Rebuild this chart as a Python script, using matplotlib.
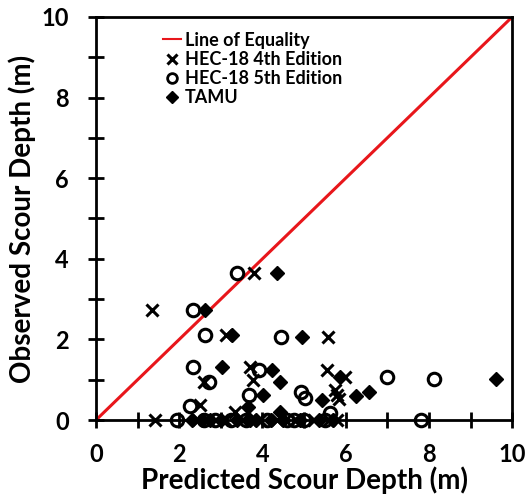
import matplotlib
matplotlib.use("Agg")
import matplotlib.pyplot as plt
from matplotlib.ticker import MultipleLocator
from matplotlib.lines import Line2D

plt.rcParams['font.family'] = ['Lato', 'DejaVu Sans']
plt.rcParams['font.weight'] = 'bold'

# HEC-18 4th Edition (predicted, observed)
hec4_x = [3.8, 1.35, 3.13, 5.58, 3.69, 5.55, 3.78, 5.99, 2.6, 5.75, 5.8, 5.85, 2.5, 3.34,
          1.42, 2.45, 2.7, 3.1, 3.5, 3.95, 4.35, 4.8, 5.25, 5.6, 5.8]
hec4_y = [3.65, 2.73, 2.12, 2.07, 1.32, 1.24, 1.0, 1.07, 0.95, 0.74, 0.62, 0.52, 0.37, 0.21,
          0, 0, 0, 0, 0, 0, 0, 0, 0, 0, 0]

# HEC-18 5th Edition
hec5_x = [3.38, 2.34, 2.62, 4.44, 2.34, 3.92, 2.72, 7.0, 8.11, 3.68, 4.92, 5.02, 2.26, 5.63,
          1.95, 2.6, 2.85, 3.25, 3.6, 4.1, 4.6, 4.75, 5.0, 5.5, 7.8]
hec5_y = [3.65, 2.73, 2.12, 2.07, 1.32, 1.24, 0.95, 1.07, 1.03, 0.62, 0.7, 0.56, 0.35, 0.18,
          0, 0, 0, 0, 0, 0, 0, 0, 0, 0, 0]

# TAMU
tamu_x = [4.35, 2.62, 3.28, 4.94, 3.02, 4.22, 5.87, 9.6, 4.42, 4.02, 5.43, 6.25, 6.55, 3.66, 4.42,
          2.3, 2.55, 2.75, 3.0, 3.4, 3.7, 3.85, 4.2, 4.5, 4.9, 5.35, 5.7]
tamu_y = [3.65, 2.73, 2.12, 2.07, 1.32, 1.24, 1.07, 1.03, 0.95, 0.62, 0.5, 0.6, 0.7, 0.33, 0.2,
          0, 0, 0, 0, 0, 0, 0, 0, 0, 0, 0, 0]

fig = plt.figure(figsize=(5.27, 4.96), dpi=100)
ax = fig.add_axes([0.182, 0.153, 0.79, 0.813])

ax.plot([0, 10], [0, 10], color='#e8161b', lw=2.2, zorder=2)
ax.plot(hec4_x, hec4_y, 'x', color='black', ms=8, mew=2.2, zorder=3, clip_on=False)
ax.plot(hec5_x, hec5_y, 'o', mfc='none', mec='black', ms=9, mew=2.2, zorder=3, clip_on=False)
ax.plot(tamu_x, tamu_y, 'D', color='black', ms=7.5, zorder=3, clip_on=False)

ax.set_xlim(0, 10)
ax.set_ylim(0, 10)
ax.xaxis.set_major_locator(MultipleLocator(2))
ax.yaxis.set_major_locator(MultipleLocator(2))
ax.xaxis.set_minor_locator(MultipleLocator(1))
ax.yaxis.set_minor_locator(MultipleLocator(1))
ax.tick_params(which='both', direction='inout', length=11, width=2, labelsize=17)
ax.tick_params(axis='x', pad=11)
ax.tick_params(axis='y', pad=14)
for s in ax.spines.values():
    s.set_linewidth(2)

ax.set_xlabel('Predicted Scour Depth (m)', fontsize=20, fontweight='bold', labelpad=0)
ax.set_ylabel('Observed Scour Depth (m)', fontsize=20, fontweight='bold', labelpad=4)

handles = [
    Line2D([], [], color='#e8161b', lw=1.5),
    Line2D([], [], ls='none', marker='x', color='black', ms=7, mew=2.2),
    Line2D([], [], ls='none', marker='o', mfc='none', mec='black', ms=7, mew=2),
    Line2D([], [], ls='none', marker='D', color='black', ms=6.5),
]
labels = ['Line of Equality', 'HEC-18 4th Edition', 'HEC-18 5th Edition', 'TAMU']
ax.legend(handles, labels, loc='upper left', bbox_to_anchor=(0.135, 0.99), frameon=False,
          prop={'weight': 'bold', 'size': 13}, handlelength=1.0, handletextpad=0.2,
          labelspacing=0.12, borderaxespad=0.2)

fig.savefig('out.png', dpi=100)
